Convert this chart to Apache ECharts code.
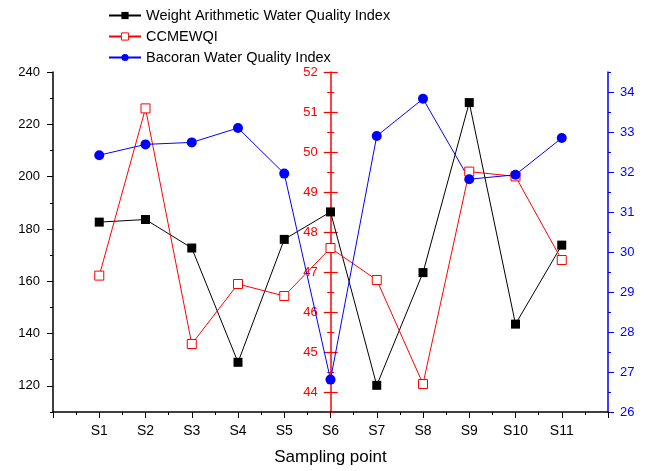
<!DOCTYPE html>
<html>
<head>
<meta charset="utf-8">
<script src="https://cdn.jsdelivr.net/npm/echarts@6/dist/echarts.min.js"></script>
<style>
  html, body { margin: 0; padding: 0; background: #fff; }
  #chart { width: 648px; height: 471px; }
</style>
</head>
<body>
<div id="chart"></div>
<script>
const categories = ['S1', 'S2', 'S3', 'S4', 'S5', 'S6', 'S7', 'S8', 'S9', 'S10', 'S11'];
const waqi = [182.6, 183.6, 172.7, 129.0, 176.0, 186.5, 120.2, 163.3, 228.3, 143.6, 173.8];
const ccmewqi = [46.91, 51.09, 45.20, 46.70, 46.40, 47.60, 46.80, 44.20, 49.51, 49.39, 47.30];
const bwqi = [32.42, 32.69, 32.74, 33.10, 31.96, 26.81, 32.90, 33.83, 31.82, 31.93, 32.85];

const leftTicks = [120, 140, 160, 180, 200, 220, 240];
const redTicks = [44, 45, 46, 47, 48, 49, 50, 51, 52];
const blueTicks = [26, 27, 28, 29, 30, 31, 32, 33, 34];

const font = "'Liberation Sans', Arial, sans-serif";
const RED = '#ff0000';
const BLUE = '#0000ff';
const RED_OFFSET = -277.7; // red axis sits on S6

const chart = echarts.init(document.getElementById('chart'));

function toPoints(values) {
  return values.map((v, i) => [i + 1, v]);
}

// helper for the extra axes that only draw ticks
function tickAxis(base, extra) {
  return Object.assign({
    type: 'value',
    axisLine: { show: false },
    axisLabel: { show: false },
    splitLine: { show: false }
  }, base, extra);
}

const leftBase = { min: 110, max: 240, position: 'left', offset: 0 };
const redBase = { min: 43.5, max: 52, position: 'left', offset: RED_OFFSET };
const blueBase = { min: 26, max: 34.5, position: 'right', offset: 0 };

const option = {
  animation: false,
  textStyle: { fontFamily: font },
  grid: { left: 53, right: 40, top: 72, bottom: 57 },
  legend: {
    orient: 'vertical',
    left: 103,
    top: 3,
    itemWidth: 32,
    itemHeight: 9,
    itemGap: 6,
    textStyle: { fontFamily: font, fontSize: 14.5, color: '#000' },
    data: [
      'Weight Arithmetic Water Quality Index',
      { name: 'CCMEWQI', itemStyle: { color: '#fff', borderColor: RED, borderWidth: 1 } },
      'Bacoran Water Quality Index'
    ]
  },
  xAxis: {
    type: 'value',
    min: 0,
    max: 12,
    interval: 1,
    name: 'Sampling point',
    nameLocation: 'middle',
    nameGap: 37,
    nameTextStyle: { fontFamily: font, fontSize: 17, color: '#000' },
    axisLine: { lineStyle: { color: '#000', width: 1.5 } },
    axisTick: { length: 6, lineStyle: { color: '#000', width: 1 } },
    minorTick: { show: true, splitNumber: 2, length: 3, lineStyle: { color: '#000', width: 1 } },
    axisLabel: {
      margin: 12,
      fontFamily: font,
      fontSize: 14,
      color: '#000',
      formatter: (v) => (v >= 1 && v <= categories.length ? categories[v - 1] : '')
    },
    splitLine: { show: false }
  },
  yAxis: [
    // 0: left axis, labels + major ticks
    Object.assign({}, leftBase, {
      type: 'value',
      interval: 10,
      axisLine: { show: true, lineStyle: { color: '#000', width: 1.5 } },
      axisTick: { show: true, length: 6, customValues: leftTicks, lineStyle: { color: '#000' } },
      axisLabel: { margin: 13, fontFamily: font, fontSize: 13, color: '#000', customValues: leftTicks },
      splitLine: { show: false }
    }),
    // 1: left minor ticks
    tickAxis(leftBase, { interval: 10, axisTick: { show: true, length: 3, lineStyle: { color: '#000' } } }),
    // 2: red axis, labels + outer major ticks
    Object.assign({}, redBase, {
      type: 'value',
      interval: 0.5,
      axisLine: { show: true, onZero: false, lineStyle: { color: RED, width: 1.5 } },
      axisTick: { show: true, length: 7, customValues: redTicks, lineStyle: { color: RED, width: 1.2 } },
      axisLabel: { margin: 13, fontFamily: font, fontSize: 13, color: RED, customValues: redTicks },
      splitLine: { show: false }
    }),
    // 3: red inner major ticks
    tickAxis(redBase, { interval: 0.5, axisTick: { show: true, inside: true, length: 7, customValues: redTicks, lineStyle: { color: RED, width: 1.2 } } }),
    // 4: red outer minor ticks
    tickAxis(redBase, { interval: 0.5, axisTick: { show: true, length: 3.5, lineStyle: { color: RED } } }),
    // 5: red inner minor ticks
    tickAxis(redBase, { interval: 0.5, axisTick: { show: true, inside: true, length: 3.5, lineStyle: { color: RED } } }),
    // 6: blue axis, labels + major ticks
    Object.assign({}, blueBase, {
      type: 'value',
      interval: 0.5,
      axisLine: { show: true, lineStyle: { color: BLUE, width: 1.5 } },
      axisTick: { show: true, length: 6, customValues: blueTicks, lineStyle: { color: BLUE } },
      axisLabel: { margin: 12, fontFamily: font, fontSize: 13, color: BLUE, customValues: blueTicks },
      splitLine: { show: false }
    }),
    // 7: blue minor ticks
    tickAxis(blueBase, { interval: 0.5, axisTick: { show: true, length: 3, lineStyle: { color: BLUE } } })
  ],
  series: [
    {
      name: 'Weight Arithmetic Water Quality Index',
      type: 'line',
      yAxisIndex: 0,
      data: toPoints(waqi),
      symbol: 'rect',
      symbolSize: 9,
      itemStyle: { color: '#000' },
      lineStyle: { color: '#000', width: 1 }
    },
    {
      name: 'CCMEWQI',
      type: 'line',
      yAxisIndex: 2,
      data: toPoints(ccmewqi),
      symbol: 'rect',
      symbolSize: 9,
      itemStyle: { color: '#fff', borderColor: RED, borderWidth: 1 },
      lineStyle: { color: RED, width: 1 }
    },
    {
      name: 'Bacoran Water Quality Index',
      type: 'line',
      yAxisIndex: 6,
      data: toPoints(bwqi),
      symbol: 'circle',
      symbolSize: 10,
      itemStyle: { color: BLUE },
      lineStyle: { color: BLUE, width: 1 }
    }
  ]
};

chart.setOption(option);
</script>
</body>
</html>
